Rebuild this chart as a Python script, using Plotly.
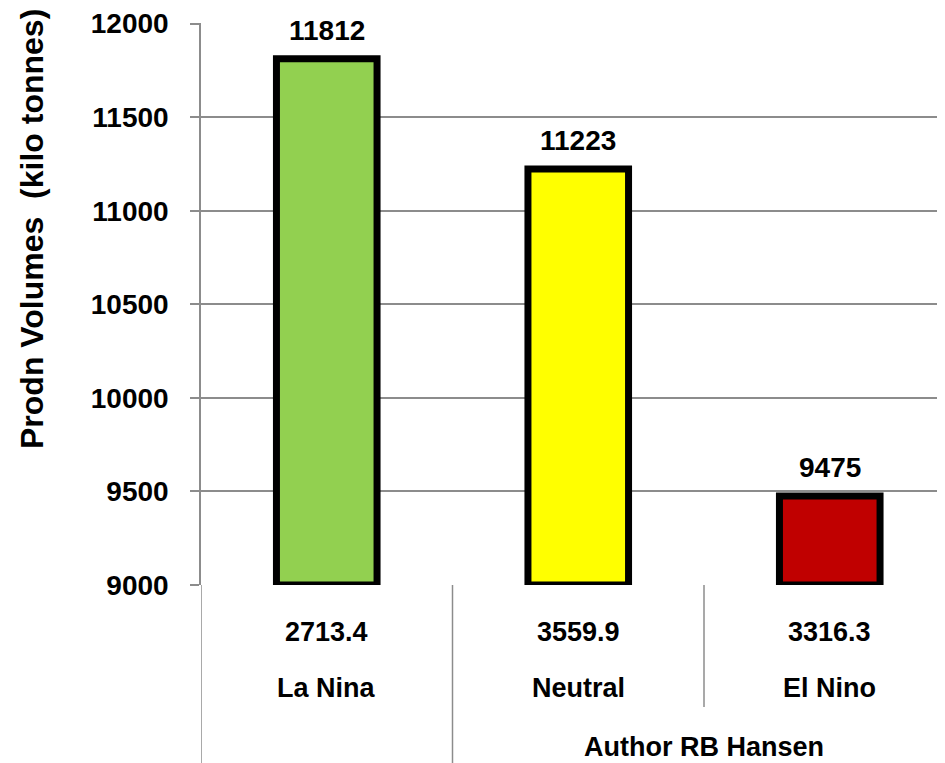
import plotly.graph_objects as go

categories = ["La Nina", "Neutral", "El Nino"]
sub_labels = ["2713.4", "3559.9", "3316.3"]
group_label = "Author RB Hansen"
values = [11812, 11223, 9475]
colors = ["#92D050", "#FFFF00", "#C00000"]
y_ticks = [9000, 9500, 10000, 10500, 11000, 11500, 12000]
y_title = "Prodn Volumes  (kilo tonnes)"

Y_MIN, Y_MAX = 9000, 12000
OFF = 8  # browser body margin
W, H = 945 - OFF, 763 - OFF
ML, MT = 201 - OFF, 23 - OFF
PH = 562
MB = H - MT - PH
FONT = "Liberation Sans, Arial, sans-serif"
FS = 27
GRID = "#8C8C8C"

xs = list(range(len(categories)))

fig = go.Figure()
fig.add_trace(go.Bar(
    x=xs,
    y=[v - Y_MIN for v in values],
    base=Y_MIN,
    width=0.4,
    marker=dict(color=colors, line=dict(color="black", width=7)),
    hoverinfo="skip",
))

def py(pix):
    # pixel y in the screenshot -> paper coordinate
    return (OFF + MT + PH - pix) / PH

def px(pix):
    return (pix - OFF - ML) / (W - ML)

annotations = []
for x, v in zip(xs, values):
    annotations.append(dict(x=x, y=v, xref="x", yref="y", text=f"<b>{v}</b>",
                            showarrow=False, yanchor="bottom", yshift=11,
                            font=dict(family=FONT, size=28, color="black")))
for x, s, c in zip(xs, sub_labels, categories):
    annotations.append(dict(x=x, y=py(632), xref="x", yref="paper", text=f"<b>{s}</b>",
                            showarrow=False, yanchor="middle",
                            font=dict(family=FONT, size=FS, color="black")))
    annotations.append(dict(x=x, y=py(688), xref="x", yref="paper", text=f"<b>{c}</b>",
                            showarrow=False, yanchor="middle",
                            font=dict(family=FONT, size=FS, color="black")))
annotations.append(dict(x=1.5, y=py(747), xref="x", yref="paper", text=f"<b>{group_label}</b>",
                        showarrow=False, yanchor="middle",
                        font=dict(family=FONT, size=FS, color="black")))
annotations.append(dict(x=px(32), y=py(229), xref="paper", yref="paper",
                        text=f"<b>{y_title}</b>", textangle=-90, showarrow=False,
                        xanchor="center", yanchor="middle",
                        font=dict(family=FONT, size=32, color="black")))

shapes = []
shapes.append(dict(type="line", xref="x", yref="paper", x0=-0.5, x1=-0.5, y0=0, y1=py(763), line=dict(color=GRID, width=1.5)))
shapes.append(dict(type="line", xref="x", yref="paper", x0=0.5, x1=0.5, y0=0, y1=py(763), line=dict(color=GRID, width=1.5)))
shapes.append(dict(type="line", xref="x", yref="paper", x0=1.5, x1=1.5, y0=0, y1=py(707), line=dict(color=GRID, width=1.5)))

fig.update_layout(
    width=W, height=H,
    margin=dict(l=ML, r=0, t=MT, b=MB),
    plot_bgcolor="white", paper_bgcolor="white",
    showlegend=False,
    annotations=annotations,
    shapes=shapes,
    xaxis=dict(range=[-0.5, -0.5 + (W - ML) / 251.5], showticklabels=False, showgrid=False,
               zeroline=False, showline=False, fixedrange=True),
    yaxis=dict(range=[Y_MIN, Y_MAX + 3], tickvals=y_ticks, ticktext=[str(t) for t in y_ticks],
               showgrid=True, gridcolor=GRID, gridwidth=1.5,
               showline=True, linecolor=GRID, linewidth=1.5, ticks="outside", ticklen=9,
               tickcolor=GRID, tickwidth=1.5, zeroline=False,
               ticklabelstandoff=16, ticklabeloverflow="allow",
               tickfont=dict(family=FONT, size=28, color="black", weight="bold")),
)

fig.write_html("out.html")
